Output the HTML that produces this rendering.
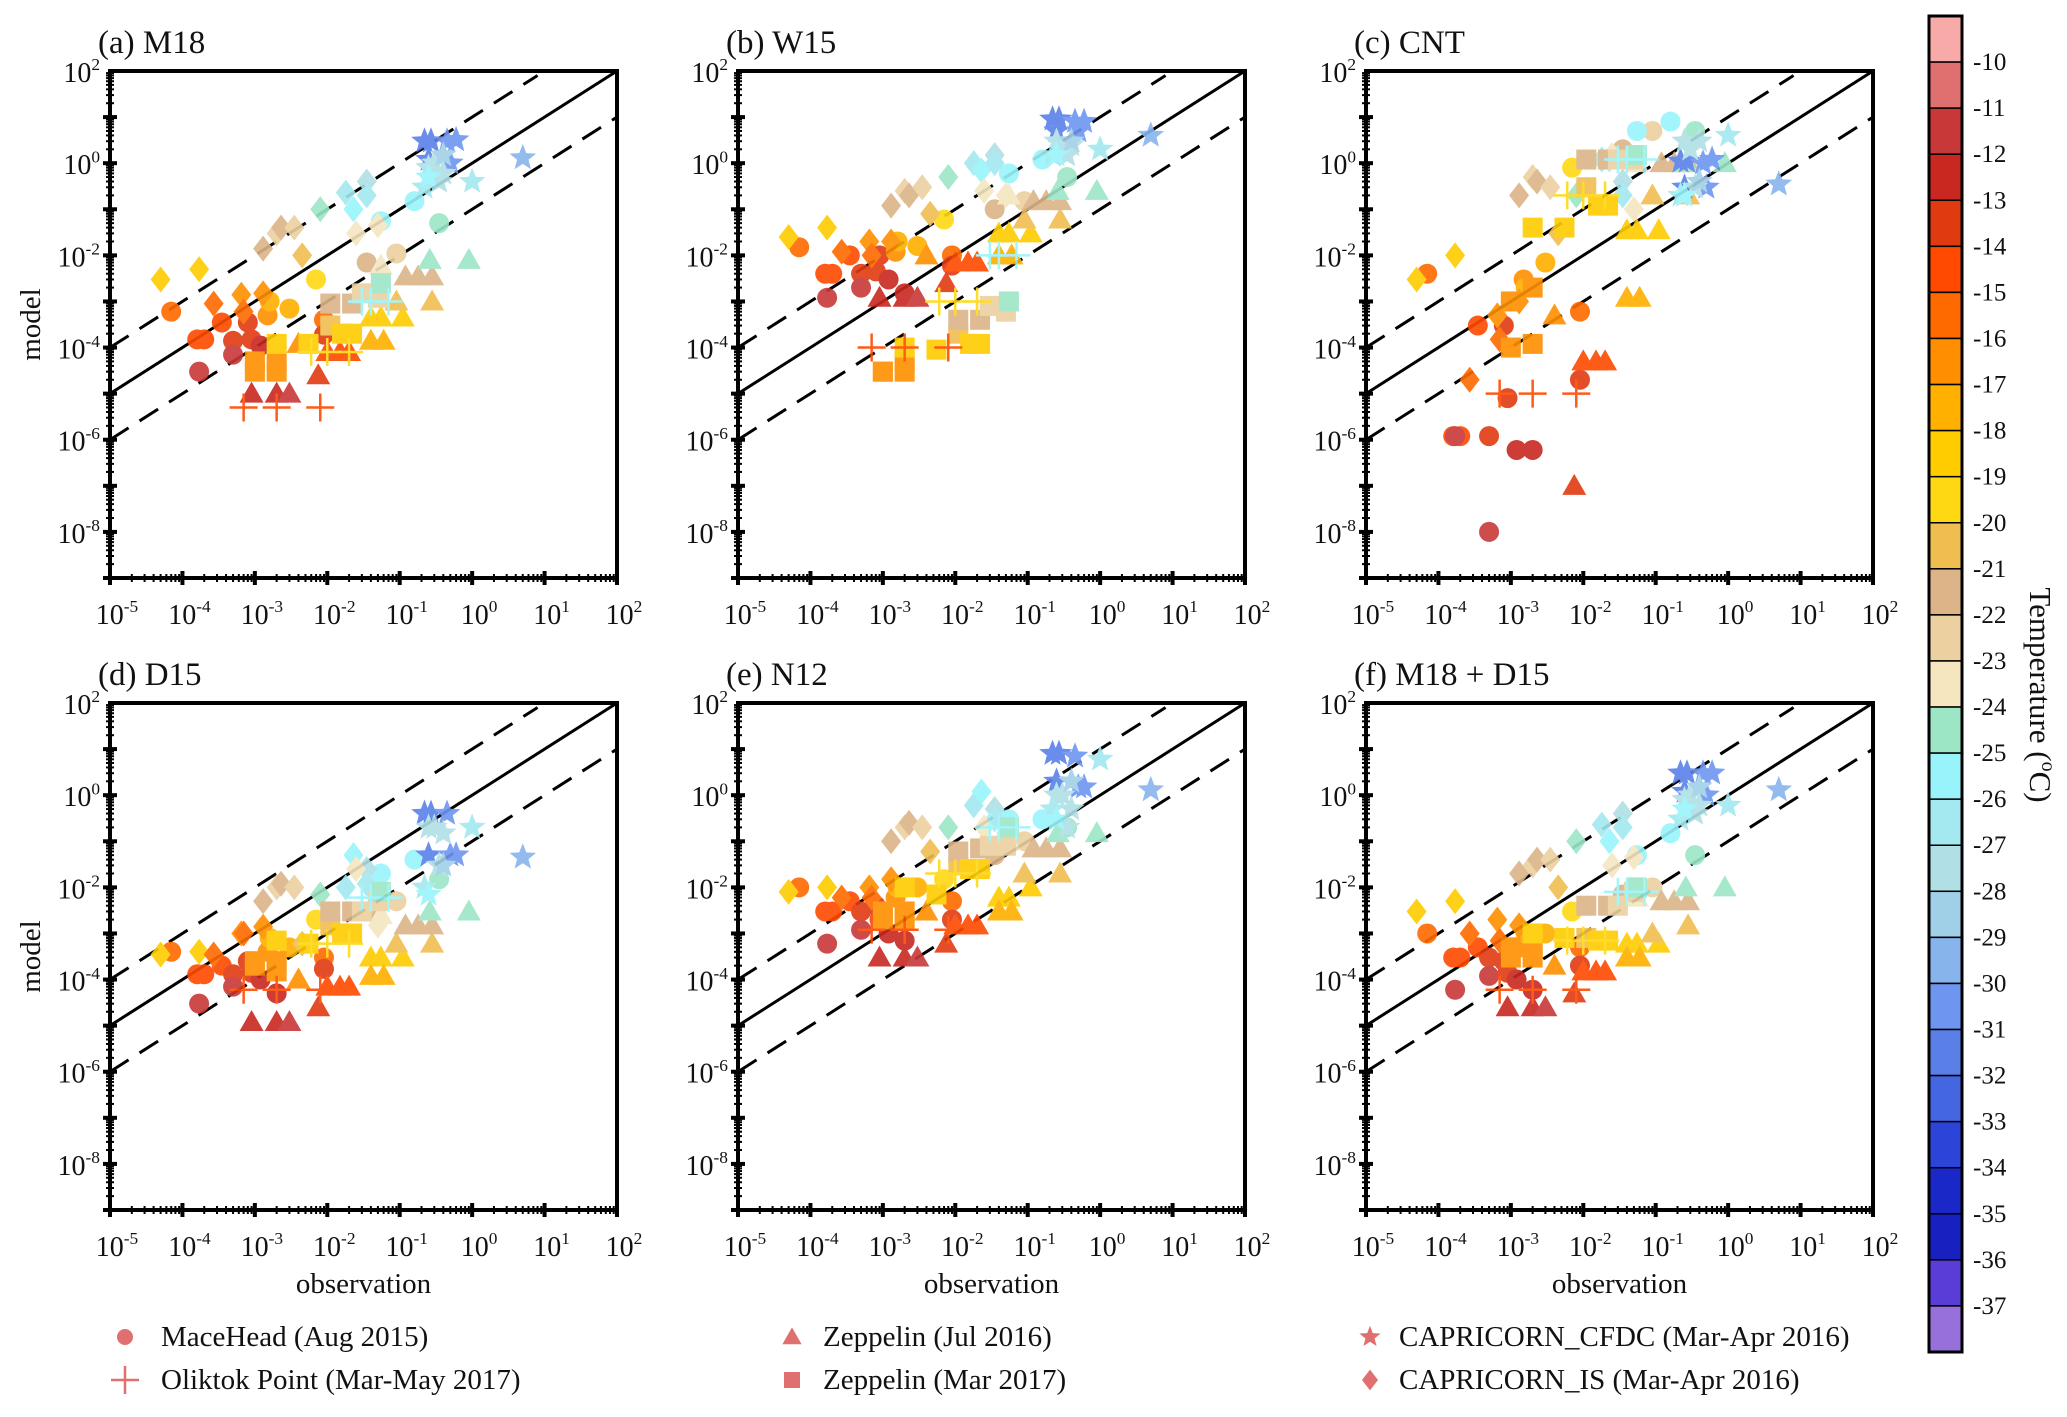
<!DOCTYPE html>
<html><head><meta charset="utf-8"><style>
html,body{margin:0;padding:0;background:#fff;}
svg{display:block;font-family:"Liberation Serif",serif;}
</style></head><body>
<svg id="fig" width="2067" height="1417" viewBox="0 0 2067 1417" xmlns="http://www.w3.org/2000/svg"></svg>
<script>
// ---- data ----
const panelTitles = ["(a) M18","(b) W15","(c) CNT","(d) D15","(e) N12","(f) M18 + D15"];
const xTickExp = [-5,-4,-3,-2,-1,0,1,2];
const yTickExp = [2,0,-2,-4,-6,-8];
const cbLabels = [-10,-11,-12,-13,-14,-15,-16,-17,-18,-19,-20,-21,-22,-23,-24,-25,-26,-27,-28,-29,-30,-31,-32,-33,-34,-35,-36,-37];
const cbColors = ["#f7aaa8","#e07070","#c83838","#c82820","#e03a10","#ff4a00","#ff6a00","#ff8f00","#ffb000","#ffcc00","#ffd814","#f0be50","#dcb488","#ecd0a0","#f5e6c0","#9ce6c6","#98f4fa","#a4e8f0","#b0e0e6","#a0d0e8","#88b4ec","#6e96f0","#5a80e8","#4466e0","#2c44d8","#1a28c8","#1820c0","#5a3cd6","#9870dc"];
const siteNames = ["MaceHead (Aug 2015)","Oliktok Point (Mar-May 2017)","Zeppelin (Jul 2016)","Zeppelin (Mar 2017)","CAPRICORN_CFDC (Mar-Apr 2016)","CAPRICORN_IS (Mar-Apr 2016)"];
const siteShapes = ["circle","plus","triangle","square","star","diamond"];

const ptShape = [
"circle","circle","circle","circle","circle","circle","circle","circle","circle","circle","circle","circle","circle","circle","circle","circle","circle","circle","circle","circle","circle","circle",
"diamond","diamond","diamond","diamond","diamond","diamond","diamond","diamond","diamond","diamond","diamond","diamond","diamond","diamond","diamond","diamond","diamond","diamond",
"triangle","triangle","triangle","triangle","triangle","triangle","triangle","triangle","triangle","triangle","triangle","triangle","triangle","triangle","triangle","triangle","triangle","triangle","triangle","triangle","triangle",
"square","square","square","square","square","square","square","square","square","square","square","square","square","square",
"plus","plus","plus","plus","plus","plus","plus","plus","plus",
"star","star","star","star","star","star","star","star","star","star","star","star","star","star","star"];
const ptTemp = [
-16,-15,-15,-12,-15,-14,-12,-14,-14,-13,-13,-17,-18,-18,-20,-16,-14,-22,-23,-26,-26,-25,
-19,-19,-16,-17,-16,-17,-22,-23,-22,-23,-21,-25,-27,-26,-28,-27,-24,-24,
-13,-13,-12,-14,-15,-15,-15,-17,-19,-19,-19,-18,-18,-21,-21,-22,-22,-22,-24,-25,-25,
-17,-17,-17,-17,-19,-19,-21,-22,-19,-19,-22,-23,-23,-25,
-15,-15,-15,-20,-20,-20,-26,-26,-26,
-32,-32,-31,-31,-32,-31,-28,-28,-28,-27,-28,-27,-30,-29,-26];
const obs = [
7e-5,1.6e-4,2e-4,1.7e-4,3.5e-4,5e-4,5e-4,8e-4,9e-4,1.2e-3,2e-3,1.5e-3,1.6e-3,3e-3,7e-3,9e-3,9e-3,3.5e-2,9e-2,1.6e-1,5.5e-2,3.5e-1,
5e-5,1.7e-4,2.7e-4,6.5e-4,7e-4,1.3e-3,1.3e-3,2e-3,2.3e-3,3.5e-3,4.5e-3,8e-3,1.8e-2,2.3e-2,3.5e-2,3.5e-2,2.5e-2,5e-2,
9e-4,2e-3,3e-3,7.5e-3,1e-2,1.5e-2,2e-2,4e-3,4e-2,5.5e-2,1.1e-1,4e-2,6e-2,9e-2,2.8e-1,1.2e-1,1.8e-1,2.8e-1,5.5e-2,2.6e-1,9e-1,
1e-3,1e-3,2e-3,2e-3,2e-3,5.5e-3,1.1e-2,1.1e-2,1.6e-2,2.2e-2,2.2e-2,3e-2,5e-2,5.5e-2,
7e-4,2e-3,8e-3,6e-3,1e-2,2e-2,3e-2,4e-2,7e-2,
2.2e-1,2.7e-1,4.5e-1,6e-1,2.5e-1,5e-1,2.5e-1,3e-1,4e-1,2.2e-1,3.5e-1,1,5,4e-1,2.5e-1];
const modelA = [
6e-4,1.5e-4,1.5e-4,3e-5,3.5e-4,1.4e-4,7e-5,3.5e-4,1.5e-4,1.1e-4,1e-4,5e-4,1e-3,7e-4,3e-3,4e-4,1.9e-4,7e-3,1.1e-2,1.5e-1,5.5e-2,5e-2,
3e-3,5e-3,9e-4,1.4e-3,6e-4,1.5e-3,1.4e-2,3e-2,4e-2,4e-2,1e-2,1e-1,2.3e-1,1e-1,4e-1,2e-1,3e-2,4.5e-2,
1e-5,1e-5,1e-5,2.5e-5,8e-5,8e-5,8e-5,1.2e-4,4.5e-4,4.5e-4,4.5e-4,1.4e-4,1.4e-4,1e-3,1e-3,3.5e-3,3.5e-3,3.5e-3,6e-3,8e-3,8e-3,
3e-5,5e-5,3e-5,5e-5,1.2e-4,1.2e-4,3e-4,9e-4,2e-4,2e-4,9e-4,1.5e-3,1.2e-3,2.5e-3,
5e-6,5e-6,5e-6,8e-5,8e-5,8e-5,1e-3,1e-3,1e-3,
3,3,3,3.2,1.2,1,0.8,1,0.6,0.3,0.4,0.4,1.3,1.5,0.5];
const modelB = [
1.5e-2,4e-3,4e-3,1.2e-3,1e-2,4e-3,2e-3,4.5e-3,1e-2,3e-3,1.5e-3,1.2e-2,2e-2,1.6e-2,6e-2,1e-2,6e-3,1e-1,1.5e-1,1.2,6e-1,5e-1,
2.5e-2,4e-2,1.2e-2,2e-2,1e-2,2e-2,1.2e-1,2.5e-1,2e-1,3e-1,8e-2,5e-1,1,7e-1,1.5,1,2.5e-1,2e-1,
1.2e-3,1.2e-3,1.2e-3,2.5e-3,7e-3,7e-3,7e-3,1e-2,3e-2,3e-2,3e-2,1e-2,1e-2,6e-2,6e-2,1.5e-1,1.5e-1,1.5e-1,2e-1,2.5e-1,2.5e-1,
3e-5,3e-5,3e-5,5e-5,1e-4,9e-5,2e-4,4e-4,1.2e-4,1.2e-4,4e-4,8e-4,6e-4,1e-3,
1e-4,1e-4,1e-4,1e-3,1e-3,1e-3,1e-2,1e-2,1e-2,
9,9,8,8,5,5,3,2,2.5,1.5,1.5,2,4,3,1.5];
const modelC = [
4e-3,1.2e-6,1.2e-6,1.2e-6,3e-4,1.2e-6,1e-8,3e-4,8e-6,6e-7,6e-7,3e-3,2e-3,7e-3,8e-1,6e-4,2e-5,2,5,8,5,5,
3e-3,1e-2,2e-5,5e-4,1.5e-4,1e-3,2e-1,5e-1,4e-1,3e-1,3e-2,2e-1,1.2,1.2,4e-1,2e-1,1.5,1e-1,
1e-10,1e-10,1e-10,1e-7,5e-5,5e-5,5e-5,5e-4,3.5e-2,3.5e-2,3.5e-2,1.2e-3,1.2e-3,2e-1,2e-1,1,1,1,1,1,1,
1e-3,1e-4,1.2e-4,2e-3,4e-2,4e-2,3e-1,1.2,1.2e-1,1.2e-1,1.2,1.2,1.2,1.5,
1e-5,1e-5,1e-5,2e-1,2e-1,2e-1,1.2,1.2,1.2,
1.1,1.1,1,1.2,0.3,0.3,3,2,3,0.2,0.3,4,0.35,0.4,0.2];
const modelD = [
4e-4,1.3e-4,1.3e-4,3e-5,2e-4,1.3e-4,7e-5,2.5e-4,1.4e-4,1e-4,5e-5,4e-4,8e-4,5e-4,2e-3,3e-4,1.7e-4,3e-3,5e-3,4e-2,2e-2,1.5e-2,
3.5e-4,4e-4,3.5e-4,1e-3,1e-3,1.4e-3,5e-3,1e-2,1.2e-2,1e-2,6e-4,7e-3,1e-2,5e-2,2.5e-2,1.2e-2,2.5e-2,1.5e-3,
1.2e-5,1.2e-5,1.2e-5,2.5e-5,7e-5,7e-5,7e-5,1e-4,3e-4,3e-4,3e-4,1.2e-4,1.2e-4,6e-4,6e-4,1.5e-3,1.5e-3,1.5e-3,2.5e-3,3e-3,3e-3,
2.5e-4,2e-4,1.5e-4,2.5e-4,7e-4,6e-4,1.5e-3,3e-3,1e-3,1e-3,3e-3,3e-3,5e-3,8e-3,
6e-5,6e-5,6e-5,6e-4,6e-4,6e-4,6e-3,6e-3,6e-3,
0.4,0.4,0.4,0.05,0.05,0.05,0.2,0.2,0.15,0.01,0.03,0.2,0.045,0.03,0.007];
const modelE = [
1e-2,3e-3,3e-3,6e-4,5e-3,3e-3,1.2e-3,4e-3,2e-3,1e-3,7e-4,6e-3,1e-2,1e-2,1.5e-2,5e-3,2e-3,5e-2,1e-1,3e-1,3e-1,2e-1,
8e-3,1e-2,6e-3,1e-2,6e-3,1.5e-2,1e-1,2e-1,2.5e-1,2e-1,6e-2,2e-1,6e-1,1.2,5e-1,3e-1,2e-1,1.5e-1,
3e-4,3e-4,3e-4,6e-4,1.5e-3,1.5e-3,1.5e-3,3e-3,6e-3,6e-3,1e-2,3e-3,3e-3,2e-2,2e-2,7e-2,7e-2,7e-2,1e-1,1.5e-1,1.5e-1,
3e-3,2e-3,2e-3,3e-3,1e-2,7e-3,3e-2,6e-2,2.5e-2,2.5e-2,7e-2,8e-2,8e-2,2e-1,
1.2e-3,1.2e-3,1.2e-3,2e-2,2e-2,2e-2,2e-1,2e-1,2e-1,
8,8,7,1.5,2,1.5,1,1,0.5,0.5,0.2,6,1.3,2,0.3];
const modelF = [
1e-3,3e-4,3e-4,6e-5,5e-4,3e-4,1.2e-4,2.5e-4,1.4e-4,1e-4,6e-5,5e-4,1e-3,1e-3,3e-3,5e-4,2e-4,7e-3,1e-2,1.5e-1,5e-2,5e-2,
3e-3,5e-3,1e-3,2e-3,7e-4,1.5e-3,2e-2,3e-2,4e-2,4e-2,1e-2,1e-1,2.3e-1,1e-1,4e-1,2e-1,3e-2,4.5e-2,
2.5e-5,2.5e-5,2.5e-5,5e-5,1.5e-4,1.5e-4,1.5e-4,2e-4,6e-4,6e-4,6e-4,3e-4,3e-4,1e-3,1.5e-3,5e-3,5e-3,5e-3,6e-3,1e-2,1e-2,
5e-4,3e-4,3e-4,5e-4,1e-3,8e-4,8e-4,4e-3,7e-4,7e-4,4e-3,4e-3,8e-3,1e-2,
6e-5,6e-5,6e-5,7e-4,7e-4,7e-4,8e-3,8e-3,8e-3,
3,3,3,3,1.2,1,0.8,1,0.6,0.3,0.4,0.6,1.3,1.5,0.5];
const models = [modelA,modelB,modelC,modelD,modelE,modelF];

// ---- layout ----
const NS = "http://www.w3.org/2000/svg";
const svg = document.getElementById('fig');
const colX = [110,738,1366], rowY = [71,703], W = 507, H = 507;
const xMin=-5,xMax=2,yMin=-9,yMax=2;
function el(tag, attrs, parent){const e=document.createElementNS(NS,tag);for(const k in attrs)e.setAttribute(k,attrs[k]);(parent||svg).appendChild(e);return e;}
function tempColor(t){let i=-t-10;i=Math.max(0,Math.min(cbColors.length-1,i));return cbColors[i];}
function powText(parent, x, y, exp, anchor, size){
  const t=el('text',{x:x,y:y,'text-anchor':anchor,'font-size':size,fill:'#111'},parent);
  t.appendChild(document.createTextNode('10'));
  const s=el('tspan',{'font-size':size*0.62,dy:-size*0.42},t);
  s.textContent=String(exp);
  return t;
}
function drawMarker(g, shape, cx, cy, color){
  let m;
  if(shape==='circle') m=el('circle',{cx:cx,cy:cy,r:10,fill:color},g);
  else if(shape==='square') m=el('rect',{x:cx-10,y:cy-10,width:20,height:20,fill:color},g);
  else if(shape==='triangle') m=el('polygon',{points:`${cx},${cy-12} ${cx+12},${cy+9} ${cx-12},${cy+9}`,fill:color},g);
  else if(shape==='diamond') m=el('polygon',{points:`${cx},${cy-13} ${cx+10},${cy} ${cx},${cy+13} ${cx-10},${cy}`,fill:color},g);
  else if(shape==='plus') m=el('path',{d:`M${cx-14},${cy}H${cx+14}M${cx},${cy-14}V${cy+14}`,stroke:color,'stroke-width':2.5,fill:'none'},g);
  else if(shape==='star'){let p=[];for(let k=0;k<10;k++){const r=k%2?6:14;const a=-Math.PI/2+k*Math.PI/5;p.push((cx+r*Math.cos(a)).toFixed(1)+','+(cy+r*Math.sin(a)).toFixed(1));}m=el('polygon',{points:p.join(' '),fill:color},g);}
  return m;
}

const defs=el('defs',{});
for(let p=0;p<6;p++){
  const col=p%3,row=Math.floor(p/3);
  const L=colX[col],T=rowY[row];
  const sx=v=>L+(Math.log10(v)-xMin)/(xMax-xMin)*W;
  const sy=v=>T+(yMax-Math.log10(v))/(yMax-yMin)*H;
  const g=el('g',{});
  
  
  const cp=el('clipPath',{id:'clip'+p},defs);
  el('rect',{x:L,y:T,width:W,height:H},cp);
  const title=el('text',{x:L-12,y:T-18,'font-size':33,fill:'#111'},g);
  title.textContent=panelTitles[p];
  
  
  const lines=el('g',{'clip-path':`url(#clip${p})`},g);
  const l1=el('line',{x1:sx(1e-5),y1:sy(1e-5),x2:sx(1e2),y2:sy(1e2),stroke:'#000','stroke-width':3},lines);
  
  
  const l2=el('line',{x1:sx(1e-5),y1:sy(1e-4),x2:sx(8),y2:sy(80),stroke:'#000','stroke-width':3,'stroke-dasharray':'22 13'},lines);
  
  
  const l3=el('line',{x1:sx(1e-5),y1:sy(1e-6),x2:sx(1e2),y2:sy(1e1),stroke:'#000','stroke-width':3,'stroke-dasharray':'22 13'},lines);
  
  
  const pts=el('g',{'clip-path':`url(#clip${p})`,opacity:0.9},g);
  const mv=models[p];
  for(let i=0;i<obs.length;i++){
    const m=drawMarker(pts,ptShape[i],sx(obs[i]),sy(mv[i]),tempColor(ptTemp[i]));
    
    
  }
  const fr=el('rect',{x:L,y:T,width:W,height:H,fill:'none',stroke:'#000','stroke-width':4},g);
  
  
  const tk=el('g',{stroke:'#000'},g);
  for(let d=xMin;d<xMax;d++){for(let k=1;k<10;k++){const x=sx(k*Math.pow(10,d));const len=k===1?7:4;el('line',{x1:x,y1:T+H-len,x2:x,y2:T+H+len,'stroke-width':k===1?4:2},tk);}}
  el('line',{x1:sx(100),y1:T+H-7,x2:sx(100),y2:T+H+7,'stroke-width':4},tk);
  for(let d=yMin;d<yMax;d++){for(let k=1;k<10;k++){const y=sy(k*Math.pow(10,d));const len=k===1?7:4;el('line',{x1:L-len,y1:y,x2:L+len,y2:y,'stroke-width':k===1?4:2},tk);}}
  const xl=el('g',{},g);
  
  
  xTickExp.forEach(e=>powText(xl,sx(Math.pow(10,e))+7,T+H+46,e,'middle',28));
  const yl=el('g',{},g);
  
  
  yTickExp.forEach(e=>powText(yl,L-10,sy(Math.pow(10,e))+11,e,'end',28));
  if(col===0){
    const ya=el('text',{x:0,y:0,transform:`translate(40,${T+H/2}) rotate(-90)`,'text-anchor':'middle','font-size':29,fill:'#111'},g);
    ya.textContent='model';
    
    
  }
  if(row===1){
    const xa=el('text',{x:L+W/2,y:T+H+83,'text-anchor':'middle','font-size':29,fill:'#111'},g);
    xa.textContent='observation';
    
    
  }
}

const cb=el('g',{});


const cbX=1929,cbY=16,cbW=33,cbH=1336,binH=cbH/cbColors.length;
cbColors.forEach((c,i)=>{el('rect',{x:cbX,y:cbY+i*binH,width:cbW,height:binH,fill:c,stroke:'#000','stroke-width':1.5},cb);});
el('rect',{x:cbX,y:cbY,width:cbW,height:cbH,fill:'none',stroke:'#000','stroke-width':3},cb);
cbLabels.forEach((v,i)=>{const t=el('text',{x:cbX+cbW+11,y:cbY+(i+1)*binH+8,'font-size':25,fill:'#111'},cb);t.textContent=String(v);});
const cbt=el('text',{x:0,y:0,transform:'translate(2030,695) rotate(90)','text-anchor':'middle','font-size':31,fill:'#111'},cb);
cbt.appendChild(document.createTextNode('Temperature ('));
const deg=el('tspan',{'font-size':20,dy:-12},cbt);deg.textContent='o';
const cc=el('tspan',{dy:12},cbt);cc.textContent='C)';



const legX=[[125,161],[125,161],[792,823],[792,823],[1370,1399],[1370,1399]];
const legY=[1337,1380,1337,1380,1337,1380];
const legOrder=[0,1,2,3,4,5];
legOrder.forEach(i=>{
  const g=el('g',{});
  
  
  const m=drawMarker(g,siteShapes[i],legX[i][0],legY[i],'#e07070');
  if(siteShapes[i]!=='plus'){m.setAttribute('transform',`translate(${legX[i][0]},${legY[i]}) scale(0.8) translate(${-legX[i][0]},${-legY[i]})`);}
  const t=el('text',{x:legX[i][1],y:legY[i]+9,'font-size':29,fill:'#111'},g);
  t.textContent=siteNames[i];
});
</script>
</body></html>
